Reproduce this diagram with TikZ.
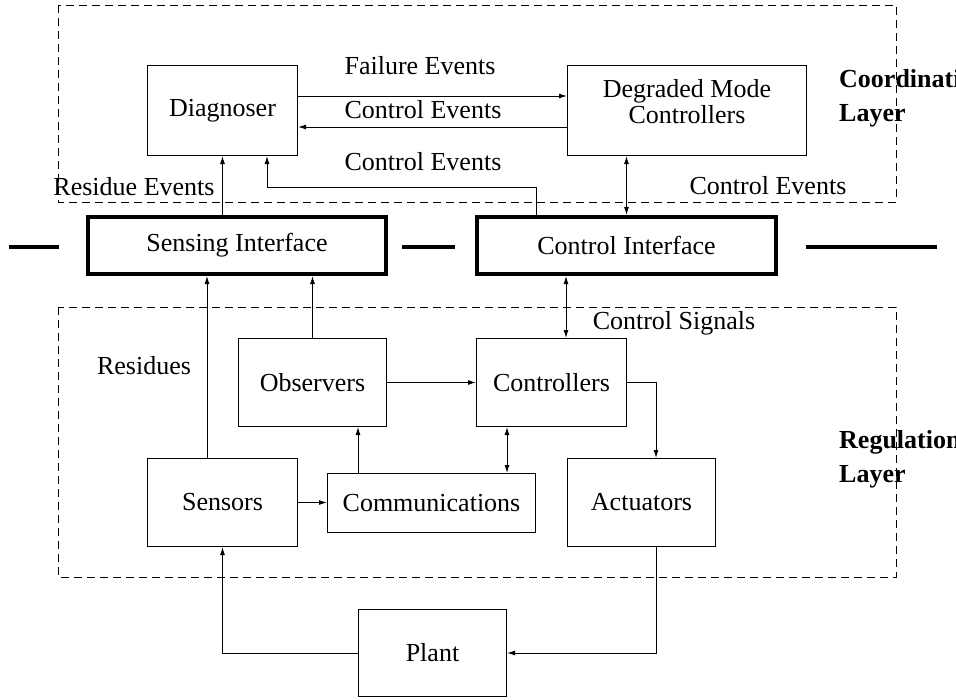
\documentclass[tikz,border=0pt]{standalone}
\usepackage{fontspec}
\setmainfont{Liberation Serif}
\usepackage{tikz}
\usetikzlibrary{arrows.meta}

\begin{document}
\begin{tikzpicture}[x=1pt, y=-1pt,
                    font=\fontsize{26}{28}\selectfont,
                    box/.style={draw, line width=1pt, inner sep=0pt, align=center},
                    iface/.style={draw, line width=4pt, inner sep=0pt, minimum width=298pt, minimum height=57pt},
                    layer/.style={line width=1pt, dash pattern=on 8pt off 5pt},
                    bar/.style={line width=4pt},
                    arr/.style={line width=1pt, -{Latex[length=8pt,width=5pt]}},
                    dbl/.style={line width=1pt, {Latex[length=8pt,width=5pt]}-{Latex[length=8pt,width=5pt]}},
                    lab/.style={inner sep=0pt, align=center},
                    side/.style={inner sep=0pt, anchor=west, align=left, font=\fontsize{26}{34}\selectfont\bfseries}]
                \useasboundingbox (0,0) rectangle (956,699);
                \clip (0,0) rectangle (956,699);
                % Layers
                \draw[layer] (58,5) rectangle (896,202);
                \draw[layer] (58,307) rectangle (896,577);
                \draw[bar] (9,247) -- (59,247);
                \draw[bar] (402,247) -- (455,247);
                \draw[bar] (806,247) -- (937,247);
                % Coordination layer
                \node[box, minimum width=150pt, minimum height=90pt] (diag) at (222.5,110.5) {Diagnoser};
                \node[box, minimum width=239pt, minimum height=90pt] (dmc) at (687,110.5) {};
                \node[lab] (dmctext) at (687,102) {Degraded Mode\\[-2pt]Controllers};
                % Interfaces
                \node[iface] (sensif) at (237,245.5) {Sensing Interface};
                \node[iface, minimum width=299pt] (ctrlif) at (626.5,245.5) {Control Interface};
                % Regulation layer
                \node[box, minimum width=148pt, minimum height=88pt] (obs) at (312.5,382.5) {Observers};
                \node[box, minimum width=150pt, minimum height=88pt] (ctrl) at (551.5,382.5) {Controllers};
                \node[box, minimum width=150pt, minimum height=88pt] (sensors) at (222.5,502.5) {Sensors};
                \node[box, minimum width=208pt, minimum height=59pt] (comm) at (431.5,503) {Communications};
                \node[box, minimum width=148pt, minimum height=88pt] (act) at (641.5,502.5) {Actuators};
                \node[box, minimum width=148pt, minimum height=87pt] (plant) at (432.5,653) {Plant};
                % Connectors above the interfaces
                \draw[arr] ([yshift=14.5pt]diag.east) -- ([yshift=14.5pt]dmc.west);
                \draw[arr] ([yshift=-16.5pt]dmc.west) -- ([yshift=-16.5pt]diag.east);
                \draw[arr] ([xshift=-90.5pt]ctrlif.north) |- ([xshift=44.5pt,yshift=-31pt]diag.south) -- ([xshift=44.5pt]diag.south);
                \draw[arr] (sensif.north -| diag.south) -- (diag.south);
                \draw[dbl] (ctrlif.north) -- (ctrlif.north |- dmc.south);
                % Connectors below the interfaces
                \draw[arr] ([xshift=-15.5pt]sensors.north) -- ([xshift=-15.5pt]sensors.north |- sensif.south);
                \draw[arr] (obs.north) -- (obs.north |- sensif.south);
                \draw[arr] (obs.east) -- (ctrl.west);
                \draw[arr] ([xshift=-73.5pt]comm.north) -- ([xshift=-73.5pt]comm.north |- obs.south);
                \draw[arr] (sensors.east) -- (sensors.east -| comm.west);
                \draw[dbl] ([xshift=-44.5pt]ctrl.south) -- ([xshift=-44.5pt]ctrl.south |- comm.north);
                \draw[arr] (ctrl.east) -| ([xshift=14.5pt]act.north);
                \draw[dbl] ([xshift=14.5pt]ctrl.north) -- ([xshift=14.5pt]ctrl.north |- ctrlif.south);
                \draw[arr] ([xshift=14.5pt]act.south) |- (plant.east);
                \draw[arr] (plant.west) -| (sensors.south);
                % Labels
                \node[lab] (failev) at (420,66) {Failure Events};
                \node[lab] (ctrlevtop) at (423,110) {Control Events};
                \node[lab] (ctrlevmid) at (423,162) {Control Events};
                \node[lab] (resev) at (134,187) {Residue Events};
                \node[lab] (ctrlevright) at (768,186) {Control Events};
                \node[lab] (ctrlsig) at (674,323) {Control Signals};
                \node[lab] (resid) at (144,366) {Residues};
                \node[side] (coordlayer) at (839,98) {Coordination\\Layer};
                \node[side] (reglayer) at (839,459.5) {Regulation\\Layer};
            \end{tikzpicture}
\end{document}
